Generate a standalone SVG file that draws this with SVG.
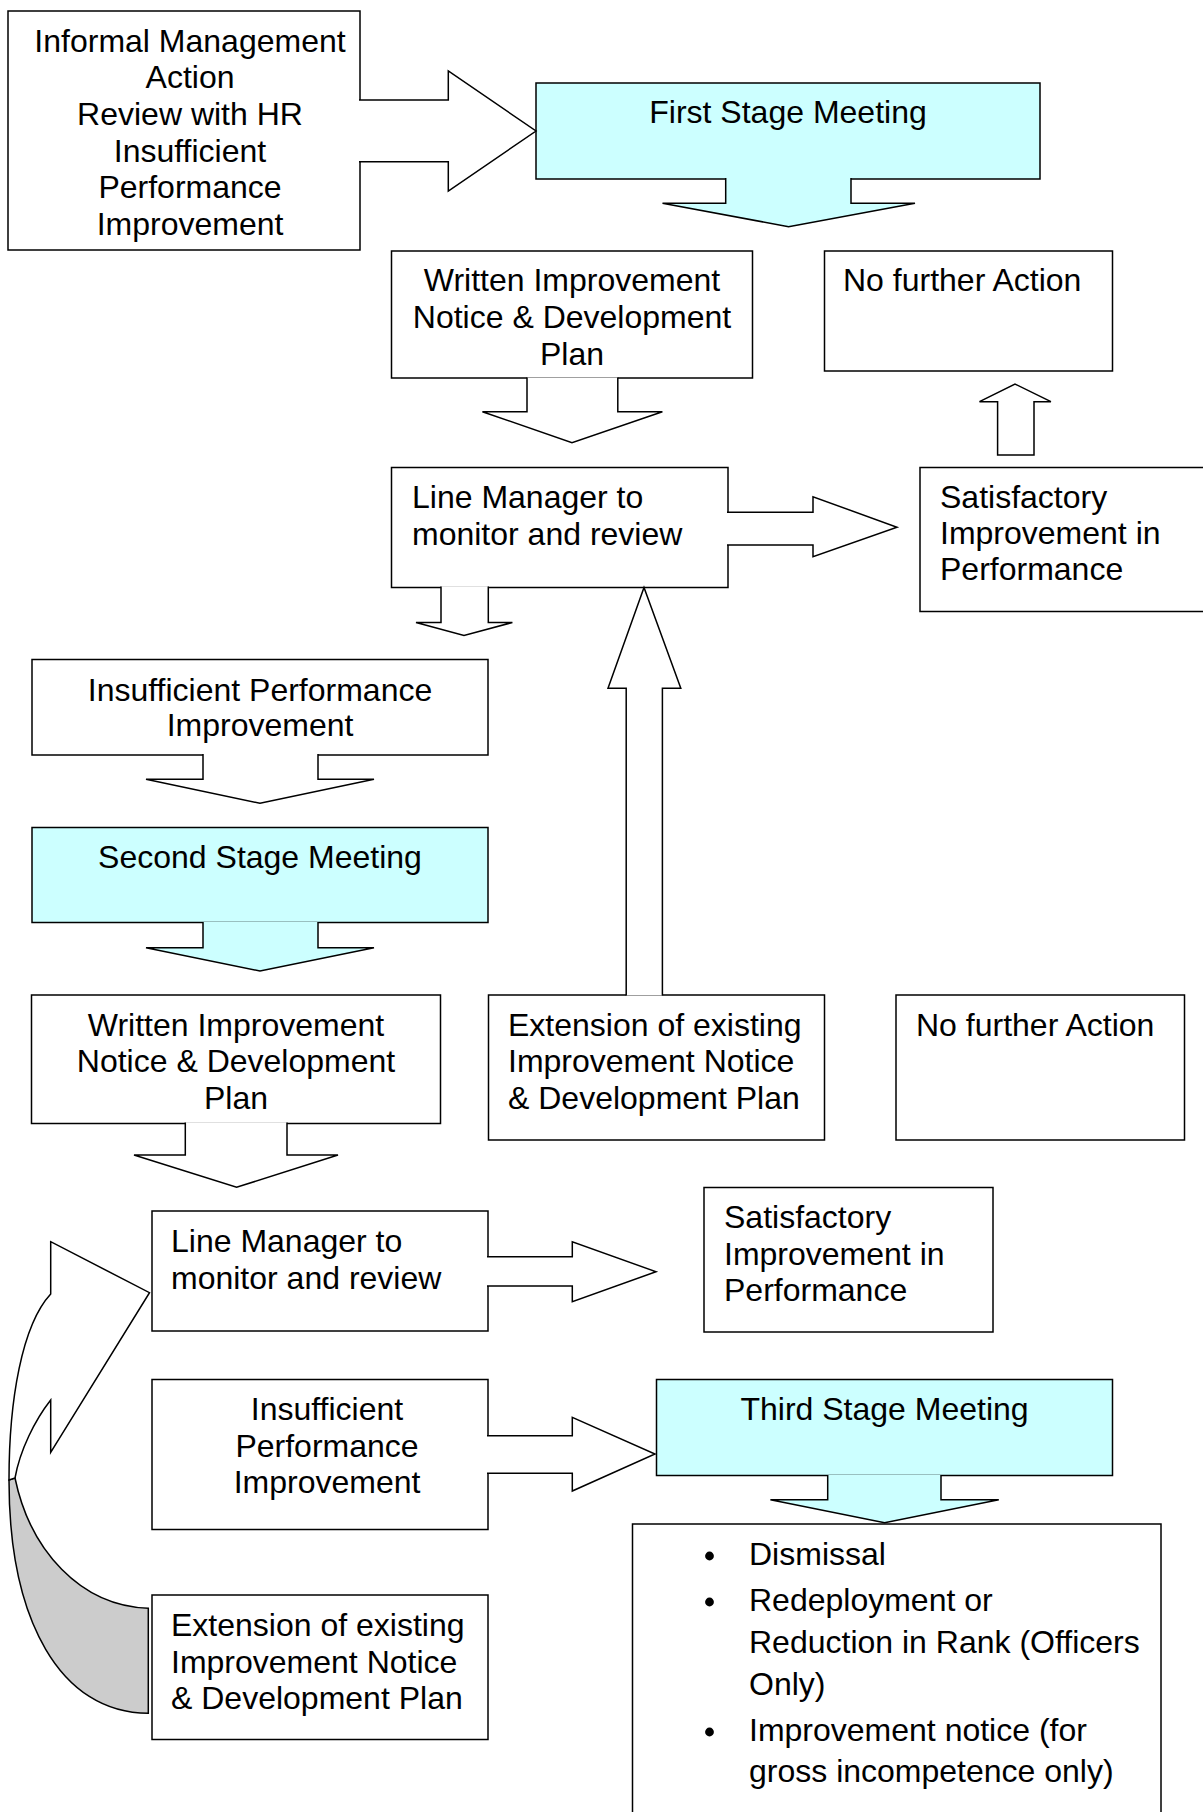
<svg xmlns="http://www.w3.org/2000/svg" width="1203" height="1812" viewBox="0 0 1203 1812">
<style>
.box{fill:#fff;stroke:#000;stroke-width:1.5}
.cyan{fill:#ccffff}
.arr{fill:#fff;stroke:#000;stroke-width:1.5;stroke-linejoin:miter}
.arrc{fill:#ccffff;stroke:#000;stroke-width:1.5}
.gray{fill:#cccccc;stroke:#000;stroke-width:1.5}
text{font-family:"Liberation Sans",Arial,sans-serif;font-size:32px;fill:#000}
.c{text-anchor:middle}
</style>
<rect width="1203" height="1812" fill="#fff"/>
<g id="nodes">
<g id="informal"><rect class="box" x="8" y="11" width="352" height="239"/>
<text class="c" x="190" y="51.5">Informal Management</text><text class="c" x="190" y="88">Action</text><text class="c" x="190" y="125">Review with HR</text><text class="c" x="190" y="161.5">Insufficient</text><text class="c" x="190" y="198">Performance</text><text class="c" x="190" y="235">Improvement</text></g>
<g id="first-stage"><rect class="box cyan" x="536" y="83" width="504" height="96"/>
<text class="c" x="788" y="123">First Stage Meeting</text></g>
<g id="written1"><rect class="box" x="391.5" y="251" width="361" height="127"/>
<text class="c" x="572" y="291">Written Improvement</text><text class="c" x="572" y="328">Notice &amp; Development</text><text class="c" x="572" y="365">Plan</text></g>
<g id="nfa1"><rect class="box" x="824.5" y="251" width="288" height="120"/>
<text x="843" y="291">No further Action</text></g>
<g id="lm1"><rect class="box" x="391.5" y="467.5" width="336.5" height="120"/>
<text x="412" y="508">Line Manager to</text><text x="412" y="545">monitor and review</text></g>
<g id="sat1"><rect class="box" x="920" y="467.5" width="300" height="144"/>
<text x="940" y="508">Satisfactory</text><text x="940" y="544">Improvement in</text><text x="940" y="580">Performance</text></g>
<g id="insuff1"><rect class="box" x="32" y="659.5" width="456" height="95.5"/>
<text class="c" x="260" y="700.5">Insufficient Performance</text><text class="c" x="260" y="736">Improvement</text></g>
<g id="second-stage"><rect class="box cyan" x="32" y="827.5" width="456" height="95"/>
<text class="c" x="260" y="868">Second Stage Meeting</text></g>
<g id="written2"><rect class="box" x="31.5" y="995" width="409" height="128.5"/>
<text class="c" x="236" y="1036">Written Improvement</text><text class="c" x="236" y="1072">Notice &amp; Development</text><text class="c" x="236" y="1109">Plan</text></g>
<g id="ext1"><rect class="box" x="488.5" y="995" width="336" height="145"/>
<text x="508" y="1036">Extension of existing</text><text x="508" y="1072">Improvement Notice</text><text x="508" y="1109">&amp; Development Plan</text></g>
<g id="nfa2"><rect class="box" x="896" y="995" width="288.5" height="145"/>
<text x="916" y="1035.5">No further Action</text></g>
<g id="lm2"><rect class="box" x="152" y="1211" width="336" height="120"/>
<text x="171" y="1252">Line Manager to</text><text x="171" y="1288.5">monitor and review</text></g>
<g id="sat2"><rect class="box" x="704" y="1187.5" width="289" height="144.5"/>
<text x="724" y="1228">Satisfactory</text><text x="724" y="1265">Improvement in</text><text x="724" y="1301">Performance</text></g>
<g id="insuff2"><rect class="box" x="152" y="1379.5" width="336" height="150"/>
<text class="c" x="327" y="1420">Insufficient</text><text class="c" x="327" y="1456.5">Performance</text><text class="c" x="327" y="1493">Improvement</text></g>
<g id="third-stage"><rect class="box cyan" x="656.5" y="1379.5" width="456" height="96"/>
<text class="c" x="884.5" y="1420">Third Stage Meeting</text></g>
<g id="outcomes"><rect class="box" x="632.5" y="1524" width="528.5" height="320"/>
<circle cx="709.5" cy="1556" r="4.4"/><circle cx="709.5" cy="1602" r="4.4"/><circle cx="709.5" cy="1732" r="4.4"/>
<text x="749" y="1565">Dismissal</text><text x="749" y="1611">Redeployment or</text><text x="749" y="1653">Reduction in Rank (Officers</text><text x="749" y="1695">Only)</text><text x="749" y="1741">Improvement notice (for</text><text x="749" y="1782">gross incompetence only)</text></g>
<g id="ext2"><rect class="box" x="152" y="1595" width="336" height="144.5"/>
<text x="171" y="1636">Extension of existing</text><text x="171" y="1673">Improvement Notice</text><text x="171" y="1709">&amp; Development Plan</text></g>
</g>
<g id="connectors">
<path class="arr" d="M359,100 H448.3 V71 L536,131 L448.3,191 V161.7 H359"/>
<path class="arrc" d="M725.7,178 V203.3 H662.5 L788.6,226.7 L915,203.3 H851 V178"/>
<path class="arr" d="M527,377.5 V411.7 H482.4 L572,442.7 L662.4,411.7 H617.8 V377.5"/>
<path class="arr" d="M727,512.3 H813 V496.7 L897,527.3 L813,556.7 V545 H727"/>
<path class="arr" d="M997.6,455 V401.7 H979.5 L1015,384 L1050.9,401.7 H1034 V455 Z"/>
<path class="arr" d="M441,586.5 V622.5 H416 L464,635.5 L512.4,622.5 H488.3 V586.5"/>
<path class="arr" d="M626.2,995.5 V688.3 H608 L644,587.5 L680.8,688.3 H662.4 V995.5"/>
<path class="arr" d="M203,754 V779.3 H146 L260,803.3 L374,779.3 H318 V754"/>
<path class="arrc" d="M203,922 V947.7 H146 L260,971 L374,947.7 H318 V922"/>
<path class="arr" d="M185.3,1122.5 V1155 H134 L236.6,1187.3 L338,1155 H287 V1122.5"/>
<path class="arr" d="M487,1256.7 H572.3 V1241.7 L656,1271.7 L572.3,1301.7 V1286 H487"/>
<path class="arr" d="M487,1435.7 H572.3 V1417.3 L655,1454 L572.3,1491 V1473.3 H487"/>
<path class="arrc" d="M827.7,1475 V1499.8 H770.4 L884.6,1522.7 L998.8,1499.8 H941 V1475"/>
<g id="curved-arrow">
<path class="gray" d="M15,1478 C30,1550 80,1606 148.3,1608.3 L148.3,1713.3 C60,1713 9,1620 9,1480 Z"/>
<path class="arr" d="M50.7,1294 L50.7,1241.7 L149.5,1292.7 L50.7,1452.3 L50.7,1400 C35,1420 20,1450 15,1478 L9,1480 C9,1400 22,1325 50.7,1294 Z"/>
</g>
</g>
</svg>
